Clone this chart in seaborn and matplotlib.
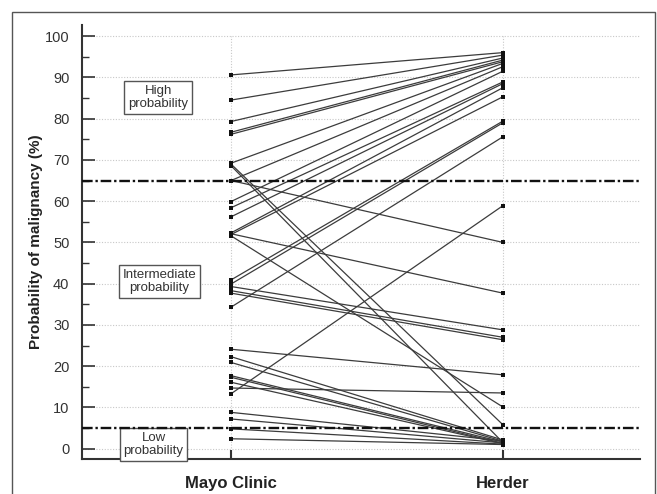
import numpy as np
import pandas as pd
import seaborn as sns
import matplotlib.pyplot as plt
from matplotlib.patches import Rectangle
from matplotlib.ticker import MultipleLocator

# ---- data ----
methods = ["Mayo Clinic", "Herder"]
mayo = [90.6, 84.5, 79.3, 76.7, 76.2, 69.2, 65.0, 59.9, 58.4, 56.2, 52.3, 51.9,
        40.9, 39.9, 34.3, 13.3, 65.0, 52.1, 39.3, 38.3, 37.7, 24.1, 14.7, 51.6,
        69.0, 68.6, 22.3, 20.9, 17.7, 17.3, 16.1, 8.8, 7.2, 4.8, 2.4]
herder = [96.0, 95.4, 94.7, 94.2, 93.8, 93.4, 92.6, 91.5, 88.9, 88.5, 87.5, 85.3,
          79.4, 79.0, 75.6, 58.9, 50.0, 37.7, 28.8, 27.0, 26.4, 17.9, 13.5, 10.1,
          5.8, 1.5, 2.1, 1.8, 1.6, 1.3, 1.2, 1.9, 1.4, 1.1, 1.0]
thresholds = [65, 5]
zone_labels = ["High\nprobability", "Intermediate\nprobability", "Low\nprobability"]
zone_label_y = [85.2, 40.6, 1.0]
zone_label_x = [-0.268, -0.263, -0.285]
ytick_vals = list(range(0, 101, 10))

n = len(mayo)
df = pd.DataFrame({
    "patient": list(range(n)) * 2,
    "method": [methods[0]] * n + [methods[1]] * n,
    "pos": [0] * n + [1] * n,
    "prob": mayo + herder,
})

sns.set_theme(style="white")
plt.rcParams['font.family'] = ['Liberation Sans', 'DejaVu Sans']

fig = plt.figure(figsize=(6.57, 4.94), dpi=100)
ax = fig.add_axes([0.1248, 0.0709, 0.974 - 0.1248, 0.9494 - 0.0709])

# grid
for yv in ytick_vals:
    ax.axhline(yv, color="#c8c8c8", lw=0.8, ls=(0, (1, 1.5)), zorder=0)
ax.vlines([0, 1], -2.5, 100, color="#c8c8c8", lw=0.8, ls=(0, (1, 1.5)), zorder=0)

sns.lineplot(data=df, x="pos", y="prob", units="patient", estimator=None,
             color="#3c3c3c", lw=0.9, marker="s", markersize=3.0,
             markeredgewidth=0, markerfacecolor="#111111", ax=ax, legend=False,
             zorder=2)

for t in thresholds:
    ax.axhline(t, color="#111111", lw=1.7, dashes=(4.5, 1.2, 1.0, 1.2), zorder=4)

for lab, xv, yv in zip(zone_labels, zone_label_x, zone_label_y):
    ax.text(xv, yv, lab, ha="center", va="center", fontsize=9.5,
            color="#333333", linespacing=1.1, zorder=3,
            bbox=dict(boxstyle="square,pad=0.3", fc="white", ec="#555555", lw=1.0))

ax.set_xlim(-0.548, 1.504)
ax.set_ylim(-2.5, 102.7)
ax.set_xticks([0, 1])
ax.set_xticklabels(methods, fontsize=12, fontweight="bold",
                   family=['Liberation Sans Narrow', 'DejaVu Sans Condensed', 'Liberation Sans'],
                   color="#222222")
ax.set_yticks(ytick_vals)
ax.set_yticklabels([str(v) for v in ytick_vals], fontsize=10.5, color="#333333")
ax.yaxis.set_minor_locator(MultipleLocator(5))
ax.tick_params(axis="y", which="major", direction="in", length=9.5, width=1.2,
               color="#333333", pad=9, left=True)
ax.tick_params(axis="y", which="minor", direction="in", length=5, width=1.0,
               color="#333333", left=True)
ax.tick_params(axis="x", which="major", direction="in", length=6.5, width=1.5,
               color="#333333", pad=12, bottom=True)
ax.set_xlabel("")
ax.set_ylabel("Probability of malignancy (%)", fontsize=11, fontweight="bold",
              color="#222222", labelpad=1)

for s in ["top", "right"]:
    ax.spines[s].set_visible(False)
for s in ["left", "bottom"]:
    ax.spines[s].set_color("#333333")
    ax.spines[s].set_linewidth(1.5)

# outer frame
fig.patches.append(Rectangle((12 / 657, -0.05), (655 - 12) / 657, 1.05 - 12 / 494,
                             transform=fig.transFigure, fill=False,
                             ec="#555555", lw=1.0))

fig.savefig("out.png", dpi=100)
